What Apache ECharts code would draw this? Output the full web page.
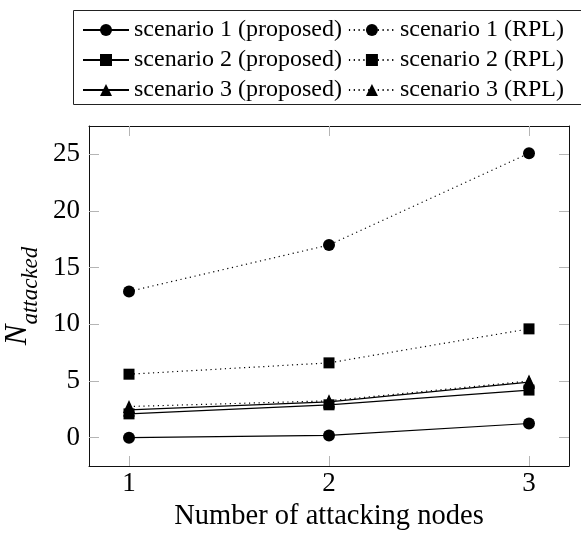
<!DOCTYPE html>
<html>
<head>
<meta charset="utf-8">
<script src="https://cdn.jsdelivr.net/npm/echarts@6/dist/echarts.min.js"></script>
<style>
html,body{margin:0;padding:0;background:#fff;}
#chart{width:581px;height:533px;}
</style>
</head>
<body>
<div id="chart"></div>
<script>
const xValues = [1, 2, 3];
const xTicks = [1, 2, 3];
const yTicks = [0, 5, 10, 15, 20, 25];
const s1Proposed = [0, 0.2, 1.25];
const s1RPL = [12.9, 17.0, 25.1];
const s2Proposed = [2.1, 2.9, 4.2];
const s2RPL = [5.6, 6.6, 9.6];
const s3Proposed = [2.45, 3.15, 4.9];
const s3RPL = [2.75, 3.25, 5.0];
const seriesNames = [
  'scenario 1 (proposed)', 'scenario 1 (RPL)',
  'scenario 2 (proposed)', 'scenario 2 (RPL)',
  'scenario 3 (proposed)', 'scenario 3 (RPL)'
];

const FONT = 'Liberation Serif';
const toPts = arr => xValues.map((x, i) => [x, arr[i]]);

function mkSeries(name, arr, symbol, size, dotted) {
  return {
    name: name,
    type: 'line',
    data: toPts(arr),
    symbol: symbol,
    symbolSize: size,
    showSymbol: true,
    itemStyle: { color: '#000' },
    lineStyle: dotted
      ? { color: '#000', width: 1.2, type: [1.2, 3.6] }
      : { color: '#000', width: 1.2, type: 'solid' },
    emphasis: { disabled: true },
    animation: false
  };
}

const tickStyle = { color: '#b5b5b5', width: 1 };
const axisLineStyle = { color: '#111', width: 1 };

const option = {
  animation: false,
  backgroundColor: '#fff',
  textStyle: { fontFamily: FONT },
  grid: { left: 89, right: 12, top: 126, bottom: 67, containLabel: false, outerBoundsMode: 'none' },
  graphic: [{
    type: 'rect',
    shape: { x: 73.5, y: 10.5, width: 600, height: 94 },
    style: { fill: 'none', stroke: '#222', lineWidth: 1 },
    silent: true
  }],
  legend: {
    left: 82, top: 18, width: 492, padding: 0,
    itemGap: 6, itemWidth: 46, itemHeight: 15,
    orient: 'horizontal',
    selectedMode: false,
    data: seriesNames,
    textStyle: { fontFamily: FONT, fontSize: 24, color: '#000', lineHeight: 24 }
  },
  xAxis: [{
    type: 'value', min: 0.8, max: 3.2, position: 'bottom',
    axisLine: { show: true, onZero: false, lineStyle: axisLineStyle },
    axisTick: { show: true, inside: true, length: 10, customValues: xTicks, lineStyle: tickStyle },
    axisLabel: { customValues: xTicks, margin: 4, fontFamily: FONT, fontSize: 27, color: '#000' },
    splitLine: { show: false },
    name: 'Number of attacking nodes', nameLocation: 'middle', nameGap: 35,
    nameTextStyle: { fontFamily: FONT, fontSize: 28.5, color: '#000' }
  }, {
    type: 'value', min: 0.8, max: 3.2, position: 'top',
    axisLine: { show: true, onZero: false, lineStyle: axisLineStyle },
    axisTick: { show: true, inside: true, length: 10, customValues: xTicks, lineStyle: tickStyle },
    axisLabel: { show: false },
    splitLine: { show: false }
  }],
  yAxis: [{
    type: 'value', min: -2.5, max: 27.5, position: 'left',
    axisLine: { show: true, onZero: false, lineStyle: axisLineStyle },
    axisTick: { show: true, inside: true, length: 10, customValues: yTicks, lineStyle: tickStyle },
    axisLabel: { customValues: yTicks, margin: 9, fontFamily: FONT, fontSize: 27, color: '#000' },
    splitLine: { show: false },
    name: '{n|N}{s|attacked}', nameLocation: 'middle', nameGap: 36, nameRotate: 90,
    nameTextStyle: {
      fontFamily: FONT, color: '#000',
      rich: {
        n: { fontFamily: FONT, fontStyle: 'italic', fontSize: 31, lineHeight: 32, color: '#000' },
        s: { fontFamily: FONT, fontStyle: 'italic', fontSize: 23, lineHeight: 48, verticalAlign: 'bottom', color: '#000' }
      }
    }
  }, {
    type: 'value', min: -2.5, max: 27.5, position: 'right',
    axisLine: { show: true, onZero: false, lineStyle: axisLineStyle },
    axisTick: { show: true, inside: true, length: 10, customValues: yTicks, lineStyle: tickStyle },
    axisLabel: { show: false },
    splitLine: { show: false }
  }],
  series: [
    mkSeries(seriesNames[0], s1Proposed, 'circle', 12, false),
    mkSeries(seriesNames[1], s1RPL, 'circle', 12, true),
    mkSeries(seriesNames[2], s2Proposed, 'rect', 11, false),
    mkSeries(seriesNames[3], s2RPL, 'rect', 11, true),
    mkSeries(seriesNames[4], s3Proposed, 'triangle', [12, 13], false),
    mkSeries(seriesNames[5], s3RPL, 'triangle', [12, 13], true)
  ]
};

const chart = echarts.init(document.getElementById('chart'), null, { renderer: 'canvas' });
chart.setOption(option);
</script>
</body>
</html>
